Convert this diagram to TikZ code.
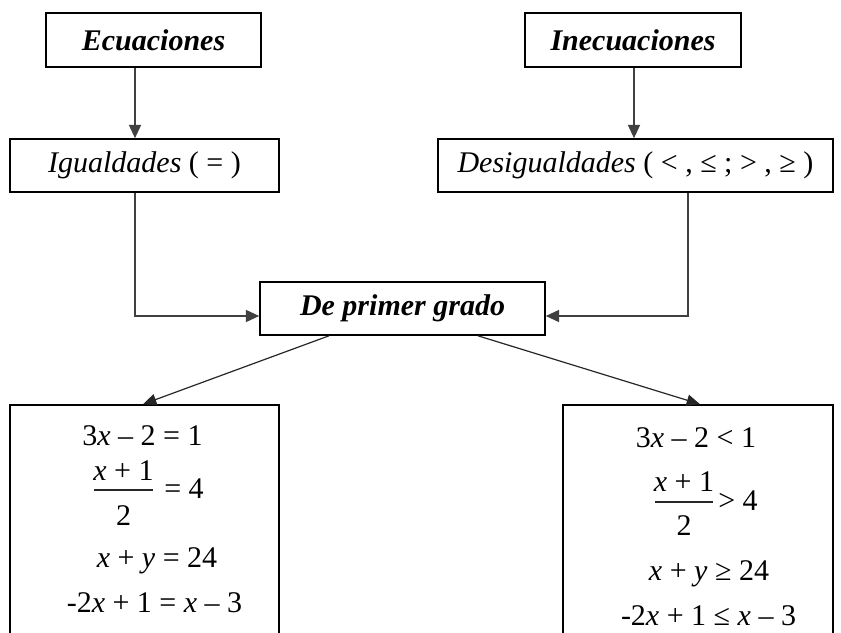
\documentclass[tikz,border=0pt]{standalone}
\usepackage{fontspec}
\setmainfont{Liberation Serif}
\usetikzlibrary{arrows.meta}
\begin{document}
\begin{tikzpicture}[x=0.75pt,y=-0.75pt,
  box/.style={draw=black,line width=1.2pt,fill=white,inner sep=0pt,
    font=\fontsize{22.5}{27}\selectfont},
  eq/.style={inner sep=0pt,anchor=base,font=\fontsize{22.5}{27}\selectfont},
  conn/.style={draw=black!75,line width=1.3pt,-{Triangle[length=10pt,width=9pt]}},
  diag/.style={draw=black!85,line width=0.9pt,-{Triangle[length=10pt,width=8.5pt]}},
  fbar/.style={draw=black!85,line width=1.1pt}]
\useasboundingbox (0,0) rectangle (841,632);
% boxes
\node[box,minimum width=161.25pt,minimum height=40.5pt] (ec) at (153.5,40) {\textbf{\textit{Ecuaciones}}};
\node[box,minimum width=162pt,minimum height=40.5pt] (ineq) at (633,40) {\textbf{\textit{Inecuaciones}}};
\node[box,minimum width=201.75pt,minimum height=39.75pt] (ig) at (144.5,165.5) {\textit{Igualdades} ( = )};
\node[box,minimum width=296.25pt,minimum height=39.75pt] (des) at (635.5,165.5) {\textit{Desigualdades} ( < , ≤ ; > , ≥ )};
\node[box,minimum width=213.75pt,minimum height=39.75pt] (dpg) at (402.5,308.5) {\textbf{\textit{De primer grado}}};
\node[box,minimum width=201.75pt,minimum height=176.25pt] (lb) at (144.5,522.5) {};
\node[box,minimum width=202.5pt,minimum height=176.25pt] (rb) at (698,522.5) {};
% helper coordinates
\coordinate (a1) at (135,0);
\coordinate (a3) at (634,0);
\coordinate (a2) at (688,0);
\coordinate (h) at (0,316);
\coordinate (d1) at (329,0);
\coordinate (t1) at (143,0);
\coordinate (d2) at (478,0);
\coordinate (t2) at (700,0);
% connectors
\draw[conn] (ec.south -| a1) -- (ig.north -| a1);
\draw[conn] (ineq.south -| a3) -- (des.north -| a3);
\draw[conn] (ig.south -| a1) |- (dpg.west |- h);
\draw[conn] (des.south -| a2) |- (dpg.east |- h);
\draw[diag] (dpg.south -| d1) -- (lb.north -| t1);
\draw[diag] (dpg.south -| d2) -- (rb.north -| t2);
% left equations
\node[eq] (l1) at (142.5,445) {3\textit{x} – 2 = 1};
\node[eq] (l2n) at (123.5,480) {\textit{x} + 1};
\node[eq] (l2d) at (123.5,525) {2};
\node[eq] (l2r) at (184,498) {= 4};
\coordinate (lbA) at (94,490);
\coordinate (lbB) at (153,490);
\draw[fbar] (lbA) -- (lbB);
\node[eq] (l3) at (157,567) {\textit{x} + \textit{y} = 24};
\node[eq] (l4) at (154.5,612) {-2\textit{x} + 1 = \textit{x} – 3};
% right inequations
\node[eq] (r1) at (696,447) {3\textit{x} – 2 < 1};
\node[eq] (r2n) at (684,491) {\textit{x} + 1};
\node[eq] (r2d) at (684,535) {2};
\node[eq] (r2r) at (738,510) {> 4};
\coordinate (rbA) at (655,502);
\coordinate (rbB) at (713,502);
\draw[fbar] (rbA) -- (rbB);
\node[eq] (r3) at (709,580) {\textit{x} + \textit{y} ≥ 24};
\node[eq] (r4) at (708.5,625) {-2\textit{x} + 1 ≤ \textit{x} – 3};
\end{tikzpicture}
\end{document}
